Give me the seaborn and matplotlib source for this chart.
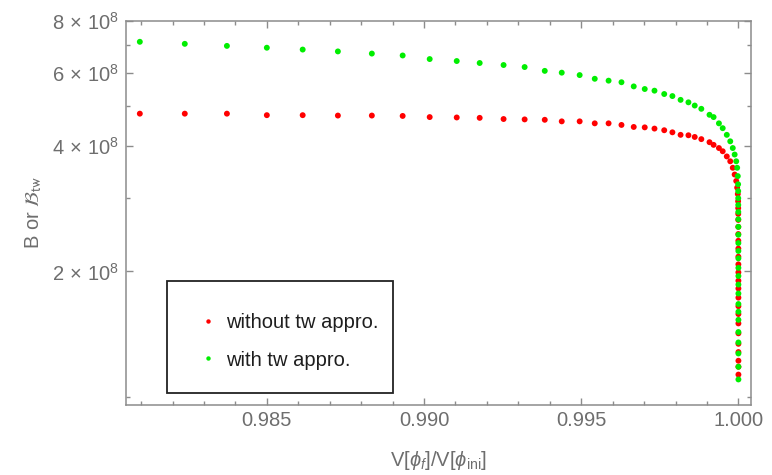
import pandas as pd
import matplotlib
matplotlib.use("Agg")
import matplotlib.pyplot as plt
import seaborn as sns
from matplotlib.patches import Rectangle
from matplotlib.ticker import FixedLocator, FixedFormatter, MultipleLocator, NullFormatter

# values (B in units of 1e8)
ratio = [0.98096, 0.98239, 0.98373, 0.98500, 0.98614, 0.98726, 0.98834, 0.98932, 0.99018, 0.99104,
         0.99177, 0.99253, 0.99320, 0.99384, 0.99438, 0.99495, 0.99543, 0.99587, 0.99628, 0.99667,
         0.99702, 0.99733, 0.99764, 0.99790, 0.99816, 0.99841, 0.99861, 0.99882, 0.99908, 0.99921,
         0.99938, 0.99950, 0.99963, 0.99974, 0.99982, 0.99988, 0.99993, 0.99996, 0.99998, 0.99999,
         0.999993, 0.999994, 0.999995, 0.999996, 0.9999965, 0.999997, 0.9999975, 0.999998,
         0.9999984, 0.9999987, 0.999999, 0.9999992, 0.9999994, 0.9999995, 0.9999996, 0.9999997,
         0.99999975, 0.9999998, 0.99999985, 0.9999999, 0.99999995, 0.99999999]

b_exact = [4.79, 4.79, 4.79, 4.75, 4.75, 4.74, 4.74, 4.73, 4.70, 4.69,
           4.68, 4.65, 4.64, 4.63, 4.59, 4.59, 4.54, 4.54, 4.50, 4.45,
           4.44, 4.41, 4.37, 4.32, 4.26, 4.25, 4.21, 4.16, 4.09, 4.03,
           3.96, 3.89, 3.78, 3.68, 3.55, 3.42, 3.30, 3.18, 3.07, 2.95,
           2.84, 2.75, 2.66, 2.56, 2.46, 2.37, 2.27, 2.17, 2.08, 1.99, 1.90,
           1.82, 1.73, 1.65, 1.58, 1.50, 1.42, 1.34, 1.28, 1.22, 1.18, 1.13]

b_tw = [7.13, 7.05, 6.97, 6.90, 6.83, 6.76, 6.68, 6.61, 6.48, 6.41,
        6.34, 6.27, 6.20, 6.07, 6.01, 5.93, 5.81, 5.75, 5.70, 5.57,
        5.49, 5.44, 5.34, 5.28, 5.17, 5.10, 5.01, 4.92, 4.76, 4.70,
        4.54, 4.42, 4.26, 4.11, 3.96, 3.82, 3.68, 3.55, 3.39, 3.24,
        3.12, 3.00, 2.89, 2.78, 2.67, 2.56, 2.45, 2.34, 2.24, 2.15, 2.04,
        1.95, 1.86, 1.77, 1.67, 1.60, 1.53, 1.43, 1.35, 1.27, 1.18, 1.10]

series = ["without tw appro.", "with tw appro."]
colours = ["#ff0000", "#00ee00"]

xticks = [0.985, 0.990, 0.995, 1.000]
xtick_labels = ["0.985", "0.990", "0.995", "1.000"]
yticks = [2e8, 4e8, 6e8, 8e8]
ytick_labels = [r"$2\,\times\,10^{8}$", r"$4\,\times\,10^{8}$", r"$6\,\times\,10^{8}$", r"$8\,\times\,10^{8}$"]
yminor = [1e8, 3e8, 5e8, 7e8]

df = pd.concat([
    pd.DataFrame({"ratio": ratio, "B": [v * 1e8 for v in b_exact], "case": series[0]}),
    pd.DataFrame({"ratio": ratio, "B": [v * 1e8 for v in b_tw], "case": series[1]}),
], ignore_index=True)

sns.set_style("ticks")
plt.rcParams["font.family"] = ["Liberation Sans", "DejaVu Sans"]
plt.rcParams["mathtext.fontset"] = "custom"
plt.rcParams["mathtext.rm"] = "Liberation Sans"
plt.rcParams["mathtext.it"] = "Liberation Sans:italic"
plt.rcParams["mathtext.bf"] = "Liberation Sans:bold"

grey = "#6e6e6e"
frame = "#8c8c8c"
fs = 14.5

fig = plt.figure(figsize=(7.72, 4.75), dpi=100)
ax = fig.add_axes([0.1632, 0.1474, 0.8096, 0.8084])

sns.scatterplot(data=df, x="ratio", y="B", hue="case", palette=colours,
                s=18, linewidth=0, ax=ax, legend=True)

ax.set_yscale("log")
ax.set_xlim(0.98052, 1.0004)
ax.set_ylim(0.955e8, 8.0e8)

ax.xaxis.set_major_locator(FixedLocator(xticks))
ax.xaxis.set_major_formatter(FixedFormatter(xtick_labels))
ax.xaxis.set_minor_locator(MultipleLocator(0.001))
ax.yaxis.set_major_locator(FixedLocator(yticks))
ax.yaxis.set_major_formatter(FixedFormatter(ytick_labels))
ax.yaxis.set_minor_locator(FixedLocator(yminor))
ax.yaxis.set_minor_formatter(NullFormatter())

ax.tick_params(which="both", direction="in", top=True, right=True, color=frame, width=1.0)
ax.tick_params(which="major", length=5, labelsize=fs, labelcolor=grey)
ax.tick_params(which="minor", length=2.8)
ax.tick_params(axis="x", which="major", pad=4)
ax.tick_params(axis="y", which="major", pad=5)
for sp in ax.spines.values():
    sp.set_color(frame)
    sp.set_linewidth(1.1)

ax.set_xlabel(r"V[$\phi_{f}$]/V[$\phi_{\rm ini}$]", fontsize=fs, color=grey, labelpad=14)
yl = ax.set_ylabel(r"B or $\mathcal{B}_{\rm tw}$", fontsize=fs, color=grey, labelpad=6)
yl.set_math_fontfamily("stixsans")

handles, labels = ax.get_legend_handles_labels()
ax.legend(handles, labels, loc="center left", bbox_to_anchor=(0.0992, 0.1665),
          frameon=False, fontsize=fs, borderpad=0, handlelength=1.0,
          handletextpad=0.4, labelspacing=0.94, markerscale=0.75,
          labelcolor="#1e1e1e")
ax.add_patch(Rectangle((0.0656, 0.03125), 0.362, 0.2917, transform=ax.transAxes,
                       fill=False, edgecolor="#222222", linewidth=1.3, zorder=5))

fig.savefig("out.png", dpi=100)
